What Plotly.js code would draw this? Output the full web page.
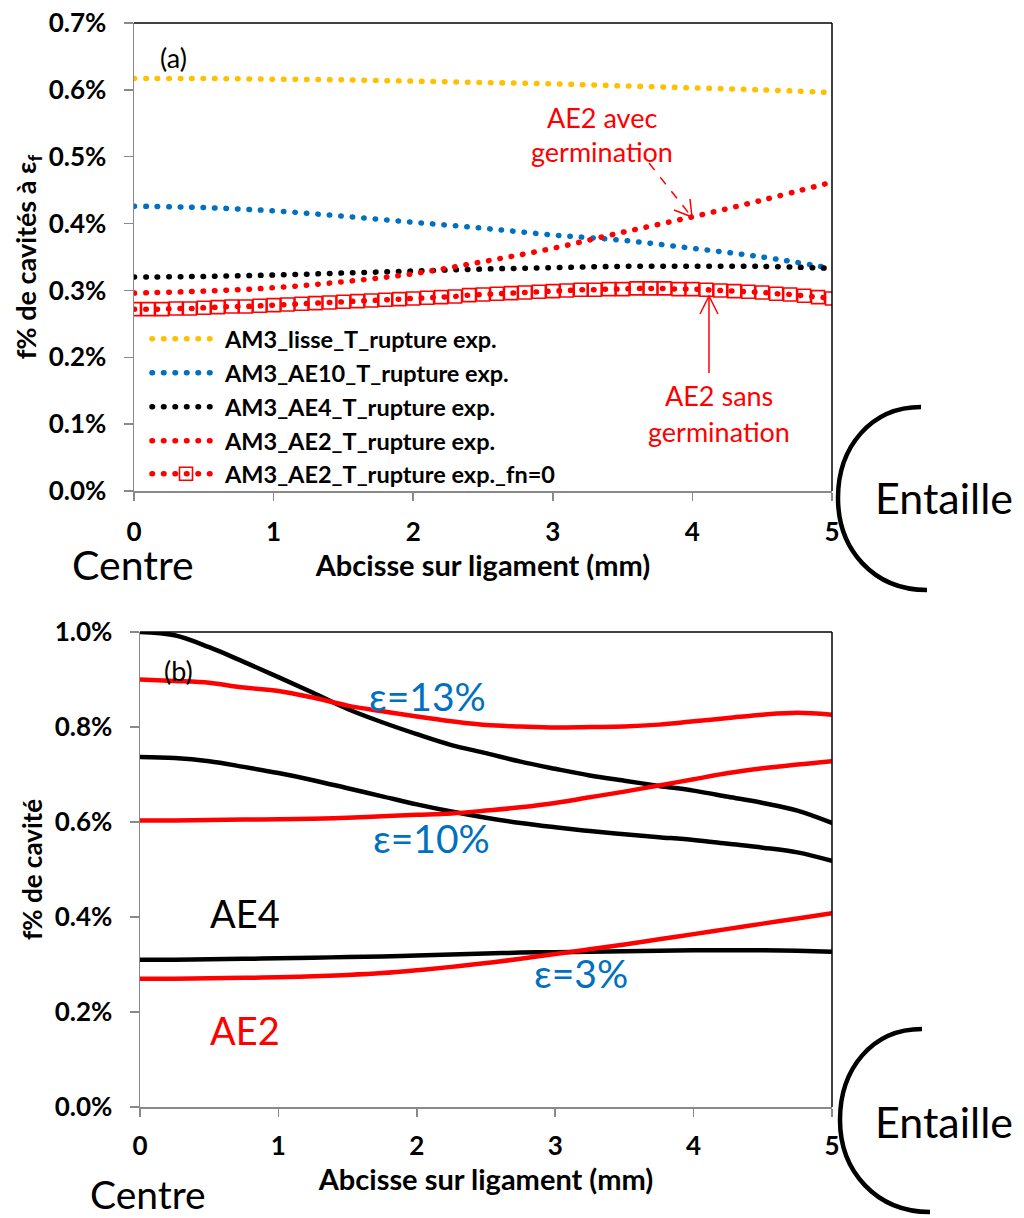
<!DOCTYPE html>
<html><head><meta charset="utf-8">
<script src="https://cdn.plot.ly/plotly-3.0.1.min.js"></script>
<style>html,body{margin:0;padding:0;background:#fff}#chart{width:1024px;height:1218px}.js-line{stroke-linecap:round}</style>
</head><body><div id="chart"></div>
<script>
// ---------- DATA ----------
// Top chart (a): f% de cavités à εf vs abscisse (mm)
const xTop = [0, 0.5, 1, 1.5, 2, 2.5, 3, 3.5, 4, 4.5, 5];
const lisse = [0.617, 0.617, 0.616, 0.615, 0.613, 0.611, 0.609, 0.606, 0.603, 0.600, 0.596];
const ae10  = [0.426, 0.424, 0.419, 0.411, 0.402, 0.393, 0.383, 0.375, 0.363, 0.350, 0.333];
const ae4   = [0.320, 0.321, 0.323, 0.326, 0.329, 0.332, 0.334, 0.336, 0.336, 0.336, 0.333];
const ae2   = [0.296, 0.299, 0.304, 0.313, 0.325, 0.343, 0.363, 0.387, 0.410, 0.435, 0.462];
const xFn0 = [0,0.1,0.2,0.3,0.4,0.5,0.6,0.7,0.8,0.9,1,1.1,1.2,1.3,1.4,1.5,1.6,1.7,1.8,1.9,2,2.1,2.2,2.3,2.4,2.5,2.6,2.7,2.8,2.9,3,3.1,3.2,3.3,3.4,3.5,3.6,3.7,3.8,3.9,4,4.1,4.2,4.3,4.4,4.5,4.6,4.7,4.8,4.9,5];
const ae2fn0 = [0.272,0.272,0.272,0.273,0.273,0.274,0.275,0.276,0.276,0.277,0.278,0.279,0.280,0.281,0.282,0.283,0.284,0.285,0.286,0.287,0.288,0.289,0.290,0.291,0.293,0.294,0.295,0.296,0.297,0.298,0.299,0.300,0.301,0.301,0.302,0.302,0.303,0.303,0.303,0.302,0.302,0.301,0.300,0.299,0.298,0.297,0.295,0.294,0.292,0.290,0.288];
const namesTop = ['AM3_lisse_T_rupture exp.', 'AM3_AE10_T_rupture exp.', 'AM3_AE4_T_rupture exp.', 'AM3_AE2_T_rupture exp.', 'AM3_AE2_T_rupture exp._fn=0'];
const yTicksTop = [0, 0.1, 0.2, 0.3, 0.4, 0.5, 0.6, 0.7];
const yTextTop = ['0.0%', '0.1%', '0.2%', '0.3%', '0.4%', '0.5%', '0.6%', '0.7%'];

// Bottom chart (b): f% de cavité vs abscisse (mm)
const xBot = [0,0.25,0.5,0.75,1,1.25,1.5,1.75,2,2.25,2.5,2.75,3,3.25,3.5,3.75,4,4.25,4.5,4.75,5];
const ae4_13 = [1.000,0.993,0.968,0.937,0.905,0.872,0.838,0.810,0.785,0.762,0.745,0.727,0.712,0.698,0.687,0.676,0.666,0.653,0.640,0.624,0.598];
const ae2_13 = [0.900,0.897,0.893,0.883,0.876,0.862,0.845,0.833,0.822,0.812,0.804,0.801,0.799,0.800,0.801,0.805,0.812,0.819,0.826,0.830,0.826];
const ae4_10 = [0.737,0.735,0.728,0.716,0.703,0.688,0.671,0.654,0.637,0.622,0.609,0.598,0.589,0.581,0.574,0.568,0.562,0.554,0.546,0.536,0.518];
const ae2_10 = [0.603,0.603,0.604,0.605,0.606,0.607,0.609,0.612,0.615,0.618,0.624,0.631,0.640,0.652,0.664,0.677,0.690,0.703,0.713,0.721,0.728];
const ae4_3  = [0.310,0.310,0.311,0.312,0.313,0.314,0.316,0.317,0.319,0.321,0.323,0.325,0.326,0.327,0.328,0.329,0.330,0.330,0.330,0.329,0.327];
const ae2_3  = [0.270,0.270,0.271,0.272,0.273,0.275,0.278,0.282,0.288,0.295,0.303,0.312,0.322,0.332,0.342,0.353,0.364,0.375,0.386,0.397,0.408];
const yTicksBot = [0, 0.2, 0.4, 0.6, 0.8, 1.0];
const yTextBot = ['0.0%', '0.2%', '0.4%', '0.6%', '0.8%', '1.0%'];
const xTicks = [0, 1, 2, 3, 4, 5];

// ---------- STYLE ----------
const W = 1024, H = 1218;
const FONT = 'Lato, "Open Sans", sans-serif';
const RED = '#FF0000', BLUE = '#0070C0', YEL = '#FFC000', BLK = '#000000', GRAY = '#898989';
const px = x => x / W;
const py = y => 1 - y / H;
const DOT = '0.5px,11px';

function dotted(x, y, color, name, leg) {
  return {x, y, type: 'scatter', mode: 'lines', name, legend: leg, xaxis: 'x', yaxis: 'y',
    line: {color, width: 5.5, dash: DOT, shape: 'spline'}};
}
const traces = [
  dotted(xTop, lisse, YEL, namesTop[0], 'legend'),
  dotted(xTop, ae10, BLUE, namesTop[1], 'legend2'),
  dotted(xTop, ae4, BLK, namesTop[2], 'legend3'),
  dotted(xTop, ae2, RED, namesTop[3], 'legend4'),
  {x: xFn0, y: ae2fn0, type: 'scatter', mode: 'lines+markers', name: namesTop[4], legend: 'legend5',
   xaxis: 'x', yaxis: 'y',
   line: {color: RED, width: 5.5, dash: DOT, shape: 'spline'},
   marker: {symbol: 'square-open', size: 13, color: RED, line: {width: 1.6, color: RED}}}
];
function solid(x, y, color) {
  return {x, y, type: 'scatter', mode: 'lines', showlegend: false, xaxis: 'x2', yaxis: 'y2',
    line: {color, width: 4.5, shape: 'spline'}};
}
traces.push(solid(xBot, ae4_13, BLK), solid(xBot, ae2_13, RED), solid(xBot, ae4_10, BLK),
            solid(xBot, ae2_10, RED), solid(xBot, ae4_3, BLK), solid(xBot, ae2_3, RED));

const tickFont = {family: FONT, size: 26, weight: 'bold', color: '#000'};
const titleFont = {family: FONT, size: 29, weight: 'bold', color: '#000'};
function xax(domain, anchor, standoff, labStand) {
  return {domain, anchor, range: [0, 5], tickvals: xTicks, ticks: 'outside', ticklen: 8,
    tickwidth: 1.5, tickcolor: GRAY, showline: true, linecolor: GRAY, linewidth: 1.5,
    showgrid: false, zeroline: false, tickfont: tickFont, ticklabelstandoff: labStand,
    title: {text: 'Abcisse sur ligament (mm)', font: titleFont, standoff}};
}
function yax(domain, anchor, max, tv, tt, title, size) {
  return {domain, anchor, range: [0, max], tickvals: tv, ticktext: tt,
    ticks: 'outside', ticklen: 9, tickwidth: 1.5, tickcolor: GRAY, showline: true, linecolor: GRAY,
    linewidth: 1.5, showgrid: false, zeroline: false, tickfont: tickFont, ticklabelstandoff: 12,
    title: {text: title, font: {family: FONT, size, weight: 'bold', color: '#000'}, standoff: 4}};
}

const legFont = {family: FONT, size: 23.5, weight: 'bold', color: '#000'};
function leg(yc) {
  return {x: px(147), xanchor: 'left', y: py(yc), yanchor: 'middle', font: legFont,
    bgcolor: 'rgba(0,0,0,0)', borderwidth: 0, itemwidth: 68};
}

function P(x, y) { return px(x).toFixed(5) + ',' + py(y).toFixed(5); }
function borderShapes(xr, yr) {
  return [
    {type: 'line', xref: xr + ' domain', yref: yr + ' domain', x0: 0, x1: 1, y0: 1, y1: 1, line: {color: BLK, width: 1.5}},
    {type: 'line', xref: xr + ' domain', yref: yr + ' domain', x0: 1, x1: 1, y0: 0, y1: 1, line: {color: BLK, width: 1.5}}
  ];
}
const shapes = [
  ...borderShapes('x', 'y'), ...borderShapes('x2', 'y2'),
  // dashed arrow "AE2 avec germination"
  {type: 'path', xref: 'paper', yref: 'paper', path: 'M' + P(649, 163) + ' L' + P(691, 216),
   line: {color: RED, width: 1.5, dash: 'dash'}},
  {type: 'path', xref: 'paper', yref: 'paper', path: 'M' + P(674, 210) + ' L' + P(692, 217) + ' L' + P(690, 199),
   line: {color: RED, width: 1.5}},
  // solid arrow "AE2 sans germination"
  {type: 'path', xref: 'paper', yref: 'paper', path: 'M' + P(709, 373) + ' L' + P(709, 297),
   line: {color: RED, width: 1.5}},
  {type: 'path', xref: 'paper', yref: 'paper', path: 'M' + P(700, 314) + ' L' + P(709, 296) + ' L' + P(718, 314),
   line: {color: RED, width: 1.5}},
  // notch arcs
  {type: 'path', xref: 'paper', yref: 'paper',
   path: 'M' + P(921, 407) + ' C' + P(871, 407) + ' ' + P(838, 447) + ' ' + P(838, 498) +
         ' C' + P(838, 549) + ' ' + P(873, 590) + ' ' + P(927, 590),
   line: {color: BLK, width: 4.5}},
  {type: 'path', xref: 'paper', yref: 'paper',
   path: 'M' + P(922, 1029) + ' C' + P(872, 1029) + ' ' + P(840, 1069) + ' ' + P(840, 1120) +
         ' C' + P(840, 1171) + ' ' + P(876, 1212) + ' ' + P(930, 1212),
   line: {color: BLK, width: 4.5}}
];

function txt(text, x, y, size, color) {
  return {text, x: px(x), y: py(y), xref: 'paper', yref: 'paper', showarrow: false,
    xanchor: 'center', yanchor: 'middle', font: {family: FONT, size, color}};
}
const annotations = [
  txt('(a)', 173, 57, 27, BLK),
  txt('AE2 avec', 602, 117, 27, RED),
  txt('germination', 602, 152, 27, RED),
  txt('AE2 sans', 719, 395, 27, RED),
  txt('germination', 719, 431, 27, RED),
  txt('Centre', 133, 564, 41, BLK),
  txt('Entaille', 944, 497, 43, BLK),
  txt('(b)', 178, 670, 27, BLK),
  txt('ε=13%', 427, 696, 39, BLUE),
  txt('ε=10%', 431, 838, 39, BLUE),
  txt('ε=3%', 581, 973, 39, BLUE),
  txt('AE4', 245, 913, 38, BLK),
  txt('AE2', 245, 1030, 38, RED),
  txt('Centre', 148, 1194, 39, BLK),
  txt('Entaille', 944, 1121, 43, BLK)
];

const layout = {
  width: W, height: H, margin: {l: 0, r: 0, t: 0, b: 0},
  paper_bgcolor: '#fff', plot_bgcolor: '#fff', font: {family: FONT},
  xaxis: xax([px(134), px(832)], 'y', 4, 9),
  yaxis: yax([py(491), py(23)], 'x', 0.7, yTicksTop, yTextTop, 'f% de cavités à ε<sub>f</sub>', 27),
  xaxis2: xax([px(140), px(832)], 'y2', 0, 7),
  yaxis2: yax([py(1107), py(632)], 'x2', 1.0, yTicksBot, yTextBot, 'f% de cavité', 26),
  legend: leg(339), legend2: leg(373), legend3: leg(407), legend4: leg(441), legend5: leg(474),
  shapes, annotations
};
Plotly.newPlot('chart', traces, layout, {staticPlot: true});
</script></body></html>
